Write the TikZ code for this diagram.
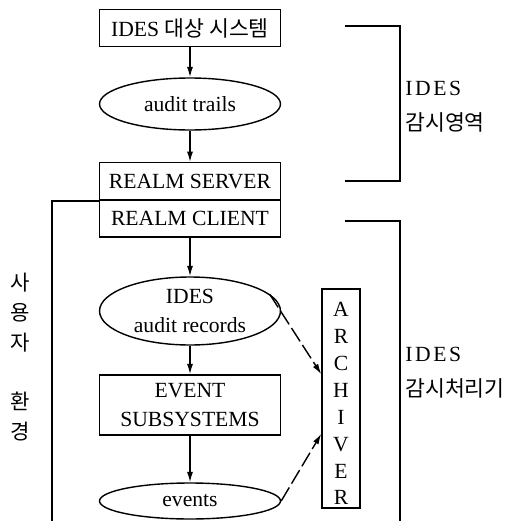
\documentclass[tikz,border=0pt]{standalone}
\usepackage{fontspec}
\setmainfont{Liberation Serif}
\newfontfamily\cjk{Noto Sans CJK KR}
\newfontfamily\spaced[LetterSpace=12]{Liberation Serif}
\usetikzlibrary{arrows.meta, shapes.geometric, positioning, calc}

\begin{document}
\begin{tikzpicture}[x=0.02cm, y=-0.02cm, every node/.style={font=\fontsize{12.3}{14}\selectfont}]
        \tikzset{
          box/.style={draw, thick, minimum width=3.62cm, minimum height=0.75cm,
                      inner sep=0pt},
          blob/.style={draw, thick, ellipse, minimum width=3.62cm, inner sep=0pt,
                       align=center},
          arr/.style={-{Latex[length=6pt, width=3.5pt]}, thick},
          dasharr/.style={arr, dash pattern=on 9pt off 2.5pt},
          side/.style={anchor=west, align=left, inner xsep=0pt,
                       font=\fontsize{12.3}{20}\selectfont},
          bracket/.style={thick}
        }
        \useasboundingbox (0,0) rectangle (513,521);

        % main chain
        \node[box] (sys) at (190,28) {IDES {\cjk 대상 시스템}};
        \node[blob, minimum height=1.04cm] (trails) at (190,104) {audit trails};
        \node[box] (srv) at (190,181.5) {REALM SERVER};
        \node[box, minimum height=0.74cm] (cli) at (190,218.5) {REALM CLIENT};
        \node[blob, minimum height=1.36cm, font=\fontsize{12.3}{16}\selectfont]
              (rec) at (190,311) {IDES\\audit records};
        \node[box, minimum height=1.2cm, align=center,
              font=\fontsize{12.3}{16}\selectfont]
              (sub) at (190,405) {EVENT\\SUBSYSTEMS};
        \node[blob, minimum height=0.72cm] (ev) at (190,501) {events};

        \draw[arr] (sys) -- (trails);
        \draw[arr] (trails) -- (srv);
        \draw[arr] (cli) -- (rec);
        \draw[arr] (rec) -- (sub);
        \draw[arr] (sub) -- (ev);

        % archiver
        \node[draw, thick, minimum width=0.76cm, minimum height=4.38cm,
              align=center, inner sep=0pt, font=\fontsize{12.3}{15.3}\selectfont]
              (arch) at (341,398.5) {\rule{0pt}{14pt}A\\R\\C\\H\\I\\V\\E\\R};
        \coordinate (in1) at ($(arch.north west)!0.39!(arch.south west)$);
        \coordinate (in2) at ($(arch.north west)!0.66!(arch.south west)$);
        \draw[dasharr] (rec.12) -- (in1);
        \draw[dasharr] (ev.east) -- (in2);

        % user environment
        \coordinate (envbot) at (52,521);
        \draw[thick] (srv.south west) -| (envbot);
        \node[font=\cjk\fontsize{12}{17}\selectfont, align=center]
              (env) at (20,357) {사\\용\\자\\~\\환\\경};

        % brackets on the right
        \coordinate (b1a) at (345,26);
        \coordinate (b1b) at (400,181);
        \draw[bracket] (b1a) -| (b1b) -- (b1b -| b1a);
        \node[side] (zone) at (405,107) {{\spaced IDES}\\{\cjk 감시영역}};

        \coordinate (b2a) at (345,221);
        \coordinate (b2b) at (400,521);
        \draw[bracket] (b2a) -| (b2b);
        \node[side] (proc) at (405,373) {{\spaced IDES}\\{\cjk 감시처리기}};
      \end{tikzpicture}
\end{document}
